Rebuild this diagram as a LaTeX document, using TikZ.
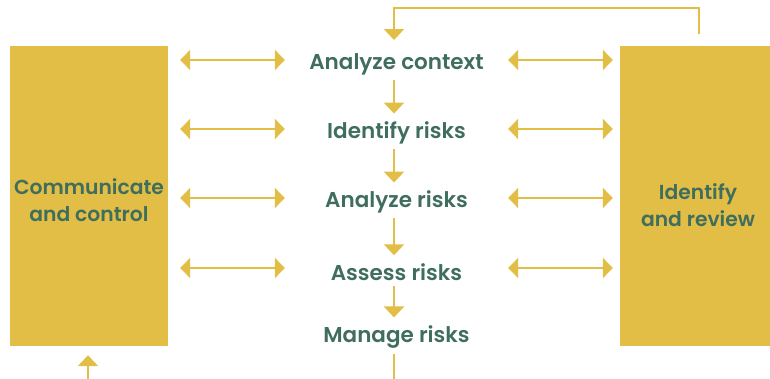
\documentclass[tikz,border=0pt]{standalone}
\usepackage{fontspec}
\setmainfont{Poppins}[UprightFont={* SemiBold}]
\usetikzlibrary{arrows.meta,positioning}
\definecolor{gold}{HTML}{E3BE46}
\definecolor{pine}{HTML}{3F6E5E}
\tikzset{stage/.style={text=pine, font=\fontsize{21.5}{24}\selectfont, minimum width=223pt, inner sep=2pt},
  panel/.style={fill=gold, inner sep=0pt, minimum height=300pt},
  paneltext/.style={text=pine, align=center, font=\fontsize{20.3}{27}\selectfont, inner sep=0pt},
  flow/.style={gold, line width=2.4pt, -{Triangle[width=20pt,length=11pt]}},
  link/.style={gold, line width=2.4pt, {Triangle[width=20pt,length=10pt]}-{Triangle[width=20pt,length=10pt]}}}

\begin{document}
\begin{tikzpicture}[x=1pt, y=-1pt]
    \useasboundingbox (0,0) rectangle (770,379);
    \node[panel, minimum width=158pt] (talk) at (89,196) {};
    \node[paneltext] (talkText) at (89,200) {Communicate\\and control};
    \node[panel, minimum width=150pt] (review) at (695,196) {};
    \node[paneltext] (reviewText) at (698,205) {Identify\\and review};
    \node[stage] (s1) at (396.5,64) {Analyze context};
    \node[stage] (s2) at (396.5,133) {Identify risks};
    \node[stage] (s3) at (396.5,202) {Analyze risks};
    \node[stage] (s4) at (396.5,272) {Assess risks};
    \node[stage] (s5) at (396.5,337) {Manage risks};
    \coordinate (loopTop) at (394,8);
    \coordinate (outM) at (394,379);
    \coordinate (inT) at (88,379);
    % two-way links to the side panels
    \foreach \s/\y in {s1/60,s2/129,s3/198,s4/268} {
        \draw[link, shorten <=12pt] (talk.east |- 0,\y) -- (\s.west |- 0,\y);
        \draw[link, shorten >=7pt] (\s.east |- 0,\y) -- (review.west |- 0,\y);
    }
    % steps down the middle
    \foreach \a/\b in {s1/s2,s2/s3,s3/s4,s4/s5}
        \draw[flow, shorten <=3pt, shorten >=6pt] (\a.south -| loopTop) -- (\b.north -| loopTop);
    \draw[flow, shorten <=12pt, shorten >=11pt] ([xshift=4pt]review.north) |- (loopTop) -- (loopTop |- s1.north);
    \draw[gold, line width=2.4pt, shorten <=3pt] (s5.south -| outM) -- (outM);
    \draw[flow, shorten >=9pt] (inT) -- (talk.south -| inT);
\end{tikzpicture}
\end{document}
